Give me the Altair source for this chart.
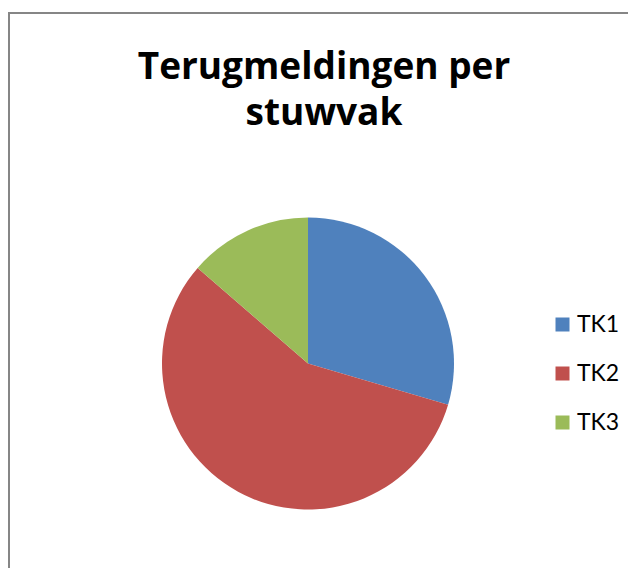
import altair as alt
import pandas as pd

categories = ["TK1", "TK2", "TK3"]
values = [13, 25, 6]
colors = ["#4F81BD", "#C0504D", "#9BBB59"]
title_lines = ["Terugmeldingen per", "stuwvak"]

df = pd.DataFrame({"stuwvak": categories, "aantal": values, "volgorde": [0, 1, 2]})

PAD_TOP = 140
W, H = 620, 420

pie = alt.Chart(df).mark_arc(outerRadius=146, stroke=None).encode(
    theta=alt.Theta("aantal:Q", stack=True),
    order=alt.Order("volgorde:Q"),
    color=alt.Color(
        "stuwvak:N",
        scale=alt.Scale(domain=categories, range=colors),
        legend=alt.Legend(
            title=None,
            orient="none",
            legendX=543,
            legendY=165,
            symbolType="square",
            symbolSize=196,
            symbolStrokeWidth=0,
            labelFontSize=23,
            labelFont="Lato",
            labelColor="#000000",
            labelOffset=3,
            rowPadding=25,
            padding=0,
        ),
    ),
    x=alt.value(300),
    y=alt.value(215.5),
)

frame_df = pd.DataFrame({"k": [0]})
left_line = alt.Chart(frame_df).mark_rule(color="#868686", strokeWidth=2).encode(
    x=alt.value(1), y=alt.value(-136), y2=alt.value(H)
)
top_line = alt.Chart(frame_df).mark_rule(color="#868686", strokeWidth=2).encode(
    x=alt.value(0), x2=alt.value(W), y=alt.value(-135)
)

chart = alt.layer(pie, left_line, top_line).properties(
    width=W,
    height=H,
    autosize=alt.AutoSizeParams(type="none"),
    padding={"left": 0, "top": PAD_TOP, "right": 0, "bottom": 0},
    title=alt.TitleParams(
        text=title_lines,
        font="Open Sans",
        fontSize=37,
        fontWeight="bold",
        color="#000000",
        anchor="middle",
        lineHeight=46,
        offset=-122,
        dx=6,
    ),
).configure_view(stroke=None)

chart.save("out.html", embed_options={"renderer": "svg", "actions": False})
